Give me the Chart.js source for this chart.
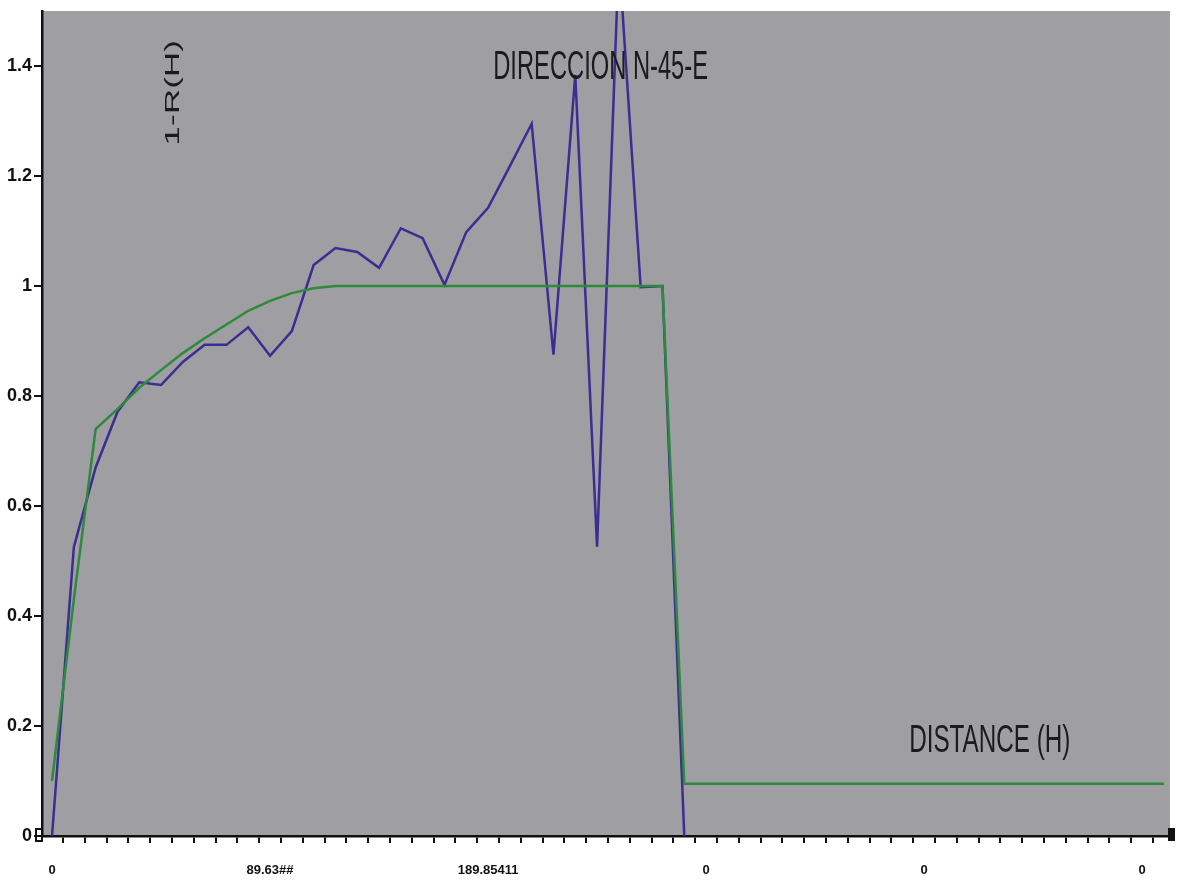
<!DOCTYPE html>
<html>
<head>
<meta charset="utf-8">
<style>
  html, body { margin: 0; padding: 0; background: #ffffff; }
  canvas { display: block; }
</style>
<script src="https://cdn.jsdelivr.net/npm/chart.js@4.4.1/dist/chart.umd.min.js"></script>
</head>
<body>
<canvas id="chart" width="1179" height="882"></canvas>
<script>
// ---- data ----
const lagDistances = [0, 10, 20, 30, 40, 50, 60, 70, 80, 90,
  100, 110, 120, 130, 140, 150, 160, 170, 180, 190,
  200, 210, 220, 230, 240, 250, 260, 270, 280, 290,
  300, 310, 320, 330, 340, 350, 360, 370, 380, 390,
  400, 410, 420, 430, 440, 450, 460, 470, 480, 490,
  500, 510];

// experimental variogram (blue)
const experimentalValues = [0, 0.525, 0.67, 0.771, 0.825, 0.82, 0.862, 0.893, 0.893, 0.925,
  0.873, 0.918, 1.038, 1.069, 1.062, 1.033, 1.105, 1.087, 1.002, 1.098,
  1.142, 1.218, 1.295, 0.875, 1.384, 0.526, 1.6, 0.998, 1.0, 0];

// fitted model (green)
const modelValues = [0.1, 0.43, 0.74, 0.776, 0.815, 0.847, 0.878, 0.905, 0.93, 0.955,
  0.973, 0.987, 0.996, 1.0, 1.0, 1.0, 1.0, 1.0, 1.0, 1.0,
  1.0, 1.0, 1.0, 1.0, 1.0, 1.0, 1.0, 1.0, 1.0, 0.095,
  0.095, 0.095, 0.095, 0.095, 0.095, 0.095, 0.095, 0.095, 0.095, 0.095,
  0.095, 0.095, 0.095, 0.095, 0.095, 0.095, 0.095, 0.095, 0.095, 0.095,
  0.095, 0.095];

const xLabelPositions = [0, 100, 200, 300, 400, 500];
const xTickLabels = ['0', '89.63##', '189.85411', '0', '0', '0'];
const xMinorTicks = [5, 15, 25, 35, 45, 55, 65, 75, 85, 95,
  105, 115, 125, 135, 145, 155, 165, 175, 185, 195,
  205, 215, 225, 235, 245, 255, 265, 275, 285, 295,
  305, 315, 325, 335, 345, 355, 365, 375, 385, 395,
  405, 415, 425, 435, 445, 455, 465, 475, 485, 495, 505];
const yTickValues = [0, 0.2, 0.4, 0.6, 0.8, 1, 1.2, 1.4];
const yTickLabels = ['0', '0.2', '0.4', '0.6', '0.8', '1', '1.2', '1.4'];

const chartTitle = 'DIRECCION N-45-E';
const yAxisTitle = '1-R(H)';
const xAxisTitle = 'DISTANCE (H)';

// ---- build datasets ----
const bluePoints = experimentalValues.map((v, i) => ({ x: lagDistances[i], y: v }));
const greenPoints = modelValues.map((v, i) => ({ x: lagDistances[i], y: v }));

const REGULAR = '"Liberation Sans", Arial, sans-serif';

function fitText(ctx, text, x, y, w, h, rotated) {
  ctx.save();
  ctx.font = '40px ' + REGULAR;
  ctx.textBaseline = 'alphabetic';
  ctx.textAlign = 'left';
  const m = ctx.measureText(text);
  const inkW = m.actualBoundingBoxLeft + m.actualBoundingBoxRight;
  const inkH = m.actualBoundingBoxAscent + m.actualBoundingBoxDescent;
  if (rotated) {
    ctx.translate(x, y + h);
    ctx.rotate(-Math.PI / 2);
    ctx.scale(h / inkW, w / inkH);
  } else {
    ctx.translate(x, y);
    ctx.scale(w / inkW, h / inkH);
  }
  ctx.fillStyle = '#1b1b1b';
  ctx.fillText(text, m.actualBoundingBoxLeft, m.actualBoundingBoxAscent);
  ctx.restore();
}

const decor = {
  id: 'decor',
  beforeDraw(chart) {
    const { ctx, chartArea: a } = chart;
    ctx.save();
    ctx.fillStyle = '#ffffff';
    ctx.fillRect(0, 0, chart.width, chart.height);
    ctx.fillStyle = 'rgb(159,158,162)';
    ctx.fillRect(a.left, a.top, a.right - a.left, a.bottom - a.top);
    ctx.restore();
  },
  afterDatasetsDraw(chart) {
    const ctx = chart.ctx;
    fitText(ctx, chartTitle, 495, 51, 212, 28, false);
    fitText(ctx, yAxisTitle, 163, 42, 20, 101, true);
    fitText(ctx, xAxisTitle, 911, 723, 158, 37, false);
  },
  afterDraw(chart) {
    const { ctx, chartArea: a } = chart;
    ctx.save();
    ctx.strokeStyle = '#111';
    ctx.lineWidth = 2;
    ctx.strokeRect(a.left - 6, a.bottom - 7, 6, 12);
    ctx.fillStyle = '#111';
    ctx.fillRect(a.right - 2, a.bottom - 8, 7, 13);
    ctx.restore();
  }
};

new Chart(document.getElementById('chart'), {
  type: 'line',
  data: {
    datasets: [
      {
        label: 'Modelo',
        data: greenPoints,
        borderColor: '#2e8a3b',
        borderWidth: 2.5,
        pointRadius: 0,
        tension: 0,
        fill: false,
        clip: 0
      },
      {
        label: 'Experimental',
        data: bluePoints,
        borderColor: '#3a2e92',
        borderWidth: 2.5,
        pointRadius: 0,
        tension: 0,
        fill: false,
        clip: 0
      }
    ]
  },
  options: {
    responsive: false,
    devicePixelRatio: 1,
    animation: false,
    layout: { padding: { left: 0, top: 11, right: 9, bottom: 0 } },
    plugins: {
      legend: { display: false },
      tooltip: { enabled: false },
      title: { display: false }
    },
    scales: {
      x: {
        type: 'linear',
        min: -4.6,
        max: 512.8,
        afterFit(scale) { scale.height = 46; },
        afterBuildTicks(scale) {
          const all = xLabelPositions.concat(xMinorTicks).sort((p, q) => p - q);
          scale.ticks = all.map(v => ({ value: v }));
        },
        border: { display: true, color: '#111', width: 2.5 },
        grid: {
          drawOnChartArea: false,
          drawTicks: true,
          tickLength: 7,
          lineWidth: 2,
          color: (c) => (c.tick && xLabelPositions.includes(c.tick.value)) ? 'rgba(0,0,0,0)' : '#111'
        },
        ticks: {
          autoSkip: false,
          maxRotation: 0,
          minRotation: 0,
          padding: 21,
          color: '#111',
          font: { family: REGULAR, size: 13, weight: 'bold', lineHeight: 1 },
          callback: (v) => {
            const i = xLabelPositions.indexOf(v);
            return i >= 0 ? xTickLabels[i] : '';
          }
        }
      },
      y: {
        type: 'linear',
        min: 0,
        max: 1.5,
        afterFit(scale) { scale.width = 42; },
        afterBuildTicks(scale) {
          scale.ticks = yTickValues.map(v => ({ value: v }));
        },
        border: { display: true, color: '#111', width: 2.5 },
        grid: {
          drawOnChartArea: false,
          drawTicks: true,
          tickLength: 8,
          lineWidth: 2,
          color: '#111'
        },
        ticks: {
          padding: 2,
          color: '#111',
          font: { family: REGULAR, size: 18, weight: 'bold', lineHeight: 1 },
          callback: (v) => {
            const i = yTickValues.indexOf(v);
            return i >= 0 ? yTickLabels[i] : '';
          }
        }
      }
    }
  },
  plugins: [decor]
});
</script>
</body>
</html>
